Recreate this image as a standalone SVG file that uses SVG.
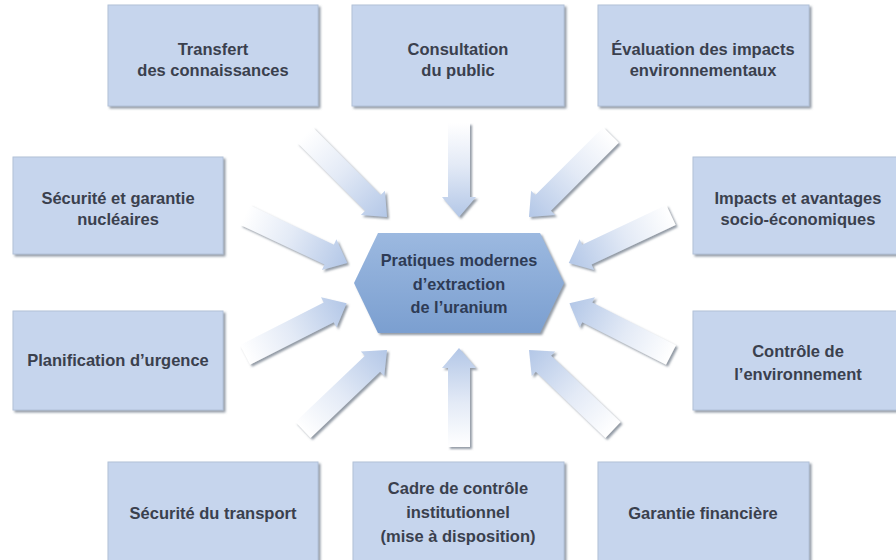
<svg xmlns="http://www.w3.org/2000/svg" width="896" height="560" viewBox="0 0 896 560">
<defs>
<linearGradient id="ag" x1="0" y1="0" x2="1" y2="0">
<stop offset="0" stop-color="#ffffff"/>
<stop offset="0.45" stop-color="#e3eaf6"/>
<stop offset="1" stop-color="#b3c7e7"/>
</linearGradient>
<linearGradient id="hg" x1="0" y1="0" x2="0" y2="1">
<stop offset="0" stop-color="#9cb9e0"/>
<stop offset="1" stop-color="#7b9fd0"/>
</linearGradient>
<filter id="sh" x="-10%" y="-10%" width="130%" height="130%">
<feGaussianBlur in="SourceAlpha" stdDeviation="1"/>
<feOffset dx="2" dy="2" result="o"/>
<feFlood flood-color="#6f7a88" flood-opacity="0.75"/>
<feComposite in2="o" operator="in"/>
<feMerge><feMergeNode/><feMergeNode in="SourceGraphic"/></feMerge>
</filter>
<style>
.box{fill:#c6d5ed;stroke:#b2c1d8;stroke-width:1}
.t{font-family:"Liberation Sans",Arial,sans-serif;font-weight:bold;font-size:16.5px;fill:#3a404d;text-anchor:middle}
.ht{font-family:"Liberation Sans",Arial,sans-serif;font-weight:bold;font-size:16.3px;fill:#2e3b55;text-anchor:middle}
.arr{fill:url(#ag)}
</style>
</defs>
<rect width="896" height="560" fill="#ffffff"/>

<g id="connectors">
<g filter="url(#sh)"><path class="arr" transform="translate(305,135) rotate(45)" d="M0,-11 H96 V-17 L116,0 L96,17 V11 H0 Z"/></g>
<g filter="url(#sh)"><path class="arr" transform="translate(459,123) rotate(90)" d="M0,-11 H74 V-17 L94,0 L74,17 V11 H0 Z"/></g>
<g filter="url(#sh)"><path class="arr" transform="translate(611,135) rotate(135)" d="M0,-11 H96 V-17 L116,0 L96,17 V11 H0 Z"/></g>
<g filter="url(#sh)"><path class="arr" transform="translate(671,215) rotate(154.8)" d="M0,-11 H93 V-17 L113,0 L93,17 V11 H0 Z"/></g>
<g filter="url(#sh)"><path class="arr" transform="translate(671,355) rotate(207)" d="M0,-11 H94 V-17 L114,0 L94,17 V11 H0 Z"/></g>
<g filter="url(#sh)"><path class="arr" transform="translate(613,430) rotate(223.6)" d="M0,-11 H96 V-17 L116,0 L96,17 V11 H0 Z"/></g>
<g filter="url(#sh)"><path class="arr" transform="translate(459,447) rotate(-90)" d="M0,-11 H79 V-17 L99,0 L79,17 V11 H0 Z"/></g>
<g filter="url(#sh)"><path class="arr" transform="translate(303,430) rotate(-43.6)" d="M0,-11 H96 V-17 L116,0 L96,17 V11 H0 Z"/></g>
<g filter="url(#sh)"><path class="arr" transform="translate(245,355) rotate(-27)" d="M0,-11 H94 V-17 L114,0 L94,17 V11 H0 Z"/></g>
<g filter="url(#sh)"><path class="arr" transform="translate(245,215) rotate(25.2)" d="M0,-11 H93 V-17 L113,0 L93,17 V11 H0 Z"/></g>
</g>

<g id="center">
<polygon points="378,233 540,233 564,283 540,333 378,333 354,283" fill="url(#hg)" filter="url(#sh)"/>
<text class="ht" x="459" y="266">Pratiques modernes</text>
<text class="ht" x="459" y="290">d’extraction</text>
<text class="ht" x="459" y="313">de l’uranium</text>
</g>

<g id="transfert">
<rect class="box" x="108" y="5" width="210" height="101" filter="url(#sh)"/>
<text class="t" x="213" y="55">Transfert</text>
<text class="t" x="213" y="76">des connaissances</text>
</g>
<g id="consultation">
<rect class="box" x="352" y="5" width="212" height="101" filter="url(#sh)"/>
<text class="t" x="458" y="55">Consultation</text>
<text class="t" x="458" y="76">du public</text>
</g>
<g id="evaluation">
<rect class="box" x="598" y="5" width="211" height="101" filter="url(#sh)"/>
<text class="t" x="703" y="55">Évaluation des impacts</text>
<text class="t" x="703" y="76">environnementaux</text>
</g>
<g id="securite-garantie">
<rect class="box" x="13" y="157" width="210" height="97" filter="url(#sh)"/>
<text class="t" x="118" y="204">Sécurité et garantie</text>
<text class="t" x="118" y="225">nucléaires</text>
</g>
<g id="impacts">
<rect class="box" x="693" y="157" width="210" height="97" filter="url(#sh)"/>
<text class="t" x="798" y="204">Impacts et avantages</text>
<text class="t" x="798" y="225">socio-économiques</text>
</g>
<g id="planification">
<rect class="box" x="13" y="311" width="210" height="99" filter="url(#sh)"/>
<text class="t" x="118" y="366">Planification d’urgence</text>
</g>
<g id="controle">
<rect class="box" x="693" y="311" width="210" height="99" filter="url(#sh)"/>
<text class="t" x="798" y="357">Contrôle de</text>
<text class="t" x="798" y="380">l’environnement</text>
</g>
<g id="securite-transport">
<rect class="box" x="108" y="462" width="210" height="102" filter="url(#sh)"/>
<text class="t" x="213" y="519">Sécurité du transport</text>
</g>
<g id="cadre">
<rect class="box" x="353" y="462" width="211" height="102" filter="url(#sh)"/>
<text class="t" x="458" y="494">Cadre de contrôle</text>
<text class="t" x="458" y="518">institutionnel</text>
<text class="t" x="458" y="542">(mise à disposition)</text>
</g>
<g id="garantie">
<rect class="box" x="598" y="462" width="211" height="102" filter="url(#sh)"/>
<text class="t" x="703" y="519">Garantie financière</text>
</g>
</svg>
